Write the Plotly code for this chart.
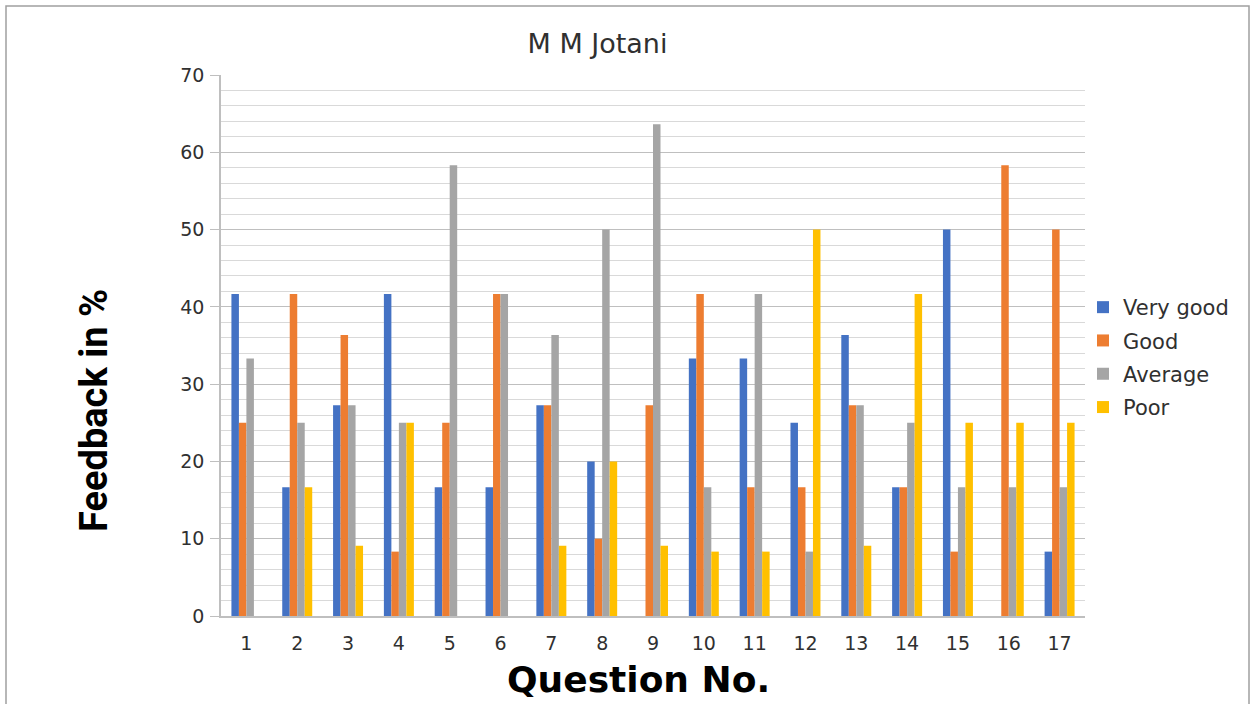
import plotly.graph_objects as go

questions = [str(i) for i in range(1, 18)]
very_good = [41.67, 16.67, 27.27, 41.67, 16.67, 16.67, 27.27, 20, 0, 33.33, 33.33, 25, 36.36, 16.67, 50, 0, 8.33]
good = [25, 41.67, 36.36, 8.33, 25, 41.67, 27.27, 10, 27.27, 41.67, 16.67, 16.67, 27.27, 16.67, 8.33, 58.33, 50]
average = [33.33, 25, 27.27, 25, 58.33, 41.67, 36.36, 50, 63.64, 16.67, 41.67, 8.33, 27.27, 25, 16.67, 16.67, 16.67]
poor = [0, 16.67, 9.09, 25, 0, 0, 9.09, 20, 9.09, 8.33, 8.33, 50, 9.09, 41.67, 25, 25, 25]

series = [
    ("Very good", very_good, "#4472C4"),
    ("Good", good, "#ED7D31"),
    ("Average", average, "#A5A5A5"),
    ("Poor", poor, "#FFC000"),
]

fig = go.Figure()
for name, vals, col in series:
    fig.add_trace(go.Bar(x=questions, y=vals, name=name, legendgroup=name,
                         marker=dict(color=col, line=dict(width=0))))

W, H = 1253, 704
L, R, T, B = 221, 168, 75, 88
pw, ph = W - L - R, H - T - B

def px(x):
    return (x - L) / pw

def py(y):
    return (H - B - y) / ph

fig.update_layout(
    width=W, height=H,
    margin=dict(l=L, r=R, t=T, b=B, autoexpand=False),
    paper_bgcolor="white", plot_bgcolor="white",
    barmode="group", bargap=0.41, bargroupgap=0,
    font=dict(family="DejaVu Sans", color="#404040"),
    title=dict(text="M M Jotani", x=597.5 / W, xanchor="center", y=1 - 44 / H, yanchor="middle",
               yref="container", xref="container",
               font=dict(size=27, color="#303030", family="DejaVu Sans")),
    legend=dict(x=px(1083), y=py(287), xanchor="left", yanchor="top",
                font=dict(size=21, color="#303030"),
                tracegroupgap=3, bgcolor="rgba(0,0,0,0)"),
    showlegend=True,
    shapes=[dict(type="rect", xref="paper", yref="paper",
                 x0=px(6), x1=px(1249), y0=py(720), y1=py(6),
                 line=dict(color="#A0A0A0", width=1.5), fillcolor="rgba(0,0,0,0)", layer="below")],
    annotations=[
        dict(text="<b>Feedback in %</b>", xref="paper", yref="paper", x=px(94), y=py(411),
             textangle=-90, showarrow=False, xanchor="center", yanchor="middle",
             font=dict(size=38, color="black", family="Roboto")),
        dict(text="<b>Question No.</b>", xref="paper", yref="paper", x=px(638), y=py(679),
             showarrow=False, xanchor="center", yanchor="middle",
             font=dict(size=36, color="black", family="DejaVu Sans")),
    ],
)

fig.update_yaxes(
    range=[0, 70], dtick=10, tick0=0,
    showgrid=True, gridcolor="#BFBFBF", gridwidth=1,
    minor=dict(dtick=2, showgrid=True, gridcolor="#D9D9D9", gridwidth=1, ticks=""),
    showline=True, linecolor="#BFBFBF", linewidth=1.5,
    ticks="outside", ticklen=9, tickcolor="#BFBFBF",
    tickfont=dict(size=19, color="#303030"),
    zeroline=False, ticklabelstandoff=2,
)
fig.update_xaxes(
    showline=True, linecolor="#BFBFBF", linewidth=1.5,
    ticks="", tickfont=dict(size=19, color="#303030"),
    ticklabelstandoff=9, showgrid=False,
)

fig.write_html("out.html", config={"displayModeBar": False},
               post_script="document.body.style.margin='0';document.body.style.overflow='hidden';")
